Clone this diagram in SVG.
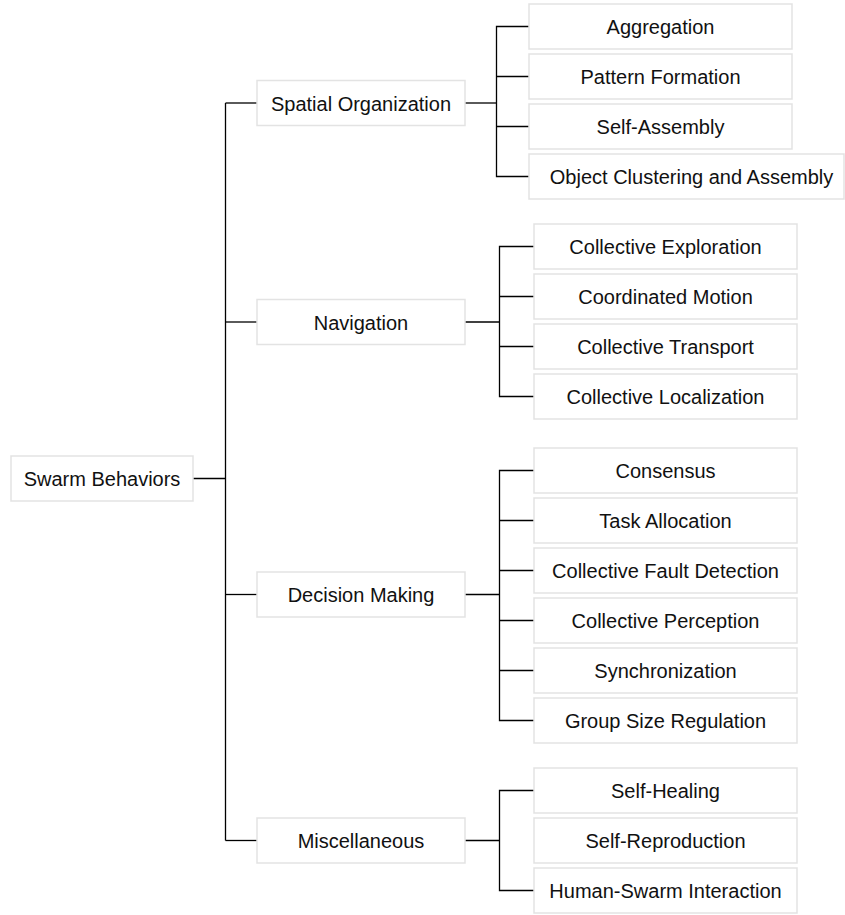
<svg xmlns="http://www.w3.org/2000/svg" width="845" height="915" viewBox="0 0 845 915">
  <style>
    .box { fill: #ffffff; stroke: #e3e3e3; stroke-width: 1.5; }
    .lbl { font-family: "Liberation Sans", Arial, sans-serif; font-size: 20px; fill: #111111; text-anchor: middle; }
    .edge { fill: none; stroke: #000000; stroke-width: 1.3; }
  </style>
  <rect width="845" height="915" fill="#ffffff"/>

  <!-- connectors -->
  <g id="connectors" class="edge">
    <!-- root to trunk -->
    <path d="M193 478.5 H225.5"/>
    <path d="M225.5 103 V840.5"/>
    <path d="M225.5 103 H257"/>
    <path d="M225.5 322 H257"/>
    <path d="M225.5 594.5 H257"/>
    <path d="M225.5 840.5 H257"/>
    <!-- Spatial Organization -->
    <path d="M465 103 H496.5"/>
    <path d="M529 26.5 H496.5 V176.5 H529"/>
    <path d="M496.5 76.5 H529"/>
    <path d="M496.5 126.5 H529"/>
    <!-- Navigation -->
    <path d="M465 322 H499.5"/>
    <path d="M534 246.5 H499.5 V396.5 H534"/>
    <path d="M499.5 296.5 H534"/>
    <path d="M499.5 346.5 H534"/>
    <!-- Decision Making -->
    <path d="M465 594.5 H499.5"/>
    <path d="M534 470.5 H499.5 V720.5 H534"/>
    <path d="M499.5 520.5 H534"/>
    <path d="M499.5 570.5 H534"/>
    <path d="M499.5 620.5 H534"/>
    <path d="M499.5 670.5 H534"/>
    <!-- Miscellaneous -->
    <path d="M465 840.5 H499.5"/>
    <path d="M534 790.5 H499.5 V890.5 H534"/>
  </g>

  <!-- root -->
  <g id="swarm-behaviors">
    <rect class="box" x="11" y="456" width="182" height="45"/>
    <text class="lbl" x="102" y="486">Swarm Behaviors</text>
  </g>

  <!-- level 1 -->
  <g id="spatial-organization">
    <rect class="box" x="257" y="80.5" width="208" height="45"/>
    <text class="lbl" x="361" y="110.5">Spatial Organization</text>
  </g>
  <g id="navigation">
    <rect class="box" x="257" y="299.5" width="208" height="45"/>
    <text class="lbl" x="361" y="329.5">Navigation</text>
  </g>
  <g id="decision-making">
    <rect class="box" x="257" y="572" width="208" height="45"/>
    <text class="lbl" x="361" y="602">Decision Making</text>
  </g>
  <g id="miscellaneous">
    <rect class="box" x="257" y="818" width="208" height="45"/>
    <text class="lbl" x="361" y="848">Miscellaneous</text>
  </g>

  <!-- Spatial Organization children -->
  <g id="aggregation">
    <rect class="box" x="529" y="4" width="263" height="45"/>
    <text class="lbl" x="660.5" y="34">Aggregation</text>
  </g>
  <g id="pattern-formation">
    <rect class="box" x="529" y="54" width="263" height="45"/>
    <text class="lbl" x="660.5" y="84">Pattern Formation</text>
  </g>
  <g id="self-assembly">
    <rect class="box" x="529" y="104" width="263" height="45"/>
    <text class="lbl" x="660.5" y="134">Self-Assembly</text>
  </g>
  <g id="object-clustering">
    <rect class="box" x="529" y="154" width="315" height="45"/>
    <text class="lbl" x="691.5" y="184">Object Clustering and Assembly</text>
  </g>

  <!-- Navigation children -->
  <g id="collective-exploration">
    <rect class="box" x="534" y="224" width="263" height="45"/>
    <text class="lbl" x="665.5" y="254">Collective Exploration</text>
  </g>
  <g id="coordinated-motion">
    <rect class="box" x="534" y="274" width="263" height="45"/>
    <text class="lbl" x="665.5" y="304">Coordinated Motion</text>
  </g>
  <g id="collective-transport">
    <rect class="box" x="534" y="324" width="263" height="45"/>
    <text class="lbl" x="665.5" y="354">Collective Transport</text>
  </g>
  <g id="collective-localization">
    <rect class="box" x="534" y="374" width="263" height="45"/>
    <text class="lbl" x="665.5" y="404">Collective Localization</text>
  </g>

  <!-- Decision Making children -->
  <g id="consensus">
    <rect class="box" x="534" y="448" width="263" height="45"/>
    <text class="lbl" x="665.5" y="478">Consensus</text>
  </g>
  <g id="task-allocation">
    <rect class="box" x="534" y="498" width="263" height="45"/>
    <text class="lbl" x="665.5" y="528">Task Allocation</text>
  </g>
  <g id="collective-fault-detection">
    <rect class="box" x="534" y="548" width="263" height="45"/>
    <text class="lbl" x="665.5" y="578">Collective Fault Detection</text>
  </g>
  <g id="collective-perception">
    <rect class="box" x="534" y="598" width="263" height="45"/>
    <text class="lbl" x="665.5" y="628">Collective Perception</text>
  </g>
  <g id="synchronization">
    <rect class="box" x="534" y="648" width="263" height="45"/>
    <text class="lbl" x="665.5" y="678">Synchronization</text>
  </g>
  <g id="group-size-regulation">
    <rect class="box" x="534" y="698" width="263" height="45"/>
    <text class="lbl" x="665.5" y="728">Group Size Regulation</text>
  </g>

  <!-- Miscellaneous children -->
  <g id="self-healing">
    <rect class="box" x="534" y="768" width="263" height="45"/>
    <text class="lbl" x="665.5" y="798">Self-Healing</text>
  </g>
  <g id="self-reproduction">
    <rect class="box" x="534" y="818" width="263" height="45"/>
    <text class="lbl" x="665.5" y="848">Self-Reproduction</text>
  </g>
  <g id="human-swarm-interaction">
    <rect class="box" x="534" y="868" width="263" height="45"/>
    <text class="lbl" x="665.5" y="898">Human-Swarm Interaction</text>
  </g>
</svg>
